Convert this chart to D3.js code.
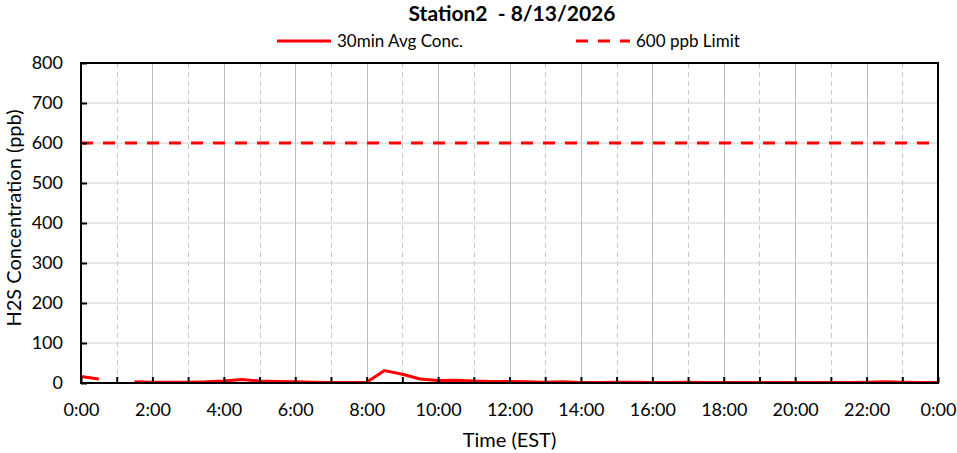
<!doctype html>
<html lang="en-us">
<head>
	<meta charset="utf-8">
	<title>Station2 H2S</title>
	<script src="https://d3js.org/d3.v7.min.js"></script>
	<style>
		body { margin: 0; background: #fff; }
		svg text { font-family: Lato, "Open Sans", sans-serif; fill: #000; }
	</style>
</head>
<body>
	<div id="chart"></div>
	<script>
		// DATA ---------------------------
		var chartTitle = "Station2  - 8/13/2026";
		var hours = [0, 0.5, 1, 1.5, 2, 2.5, 3, 3.5, 4, 4.5, 5, 5.5, 6, 6.5, 7, 7.5, 8, 8.5, 9, 9.5,
			10, 10.5, 11, 11.5, 12, 12.5, 13, 13.5, 14, 14.5, 15, 15.5, 16, 16.5, 17, 17.5, 18, 18.5,
			19, 19.5, 20, 20.5, 21, 21.5, 22, 22.5, 23, 23.5, 24];
		var avgConc = [16, 10, null, 3, 2, 2, 2, 3, 5, 9, 5, 4, 3, 2, 1, 1, 2, 31, 22, 10,
			6, 7, 5, 4, 4, 3, 2, 3, 1, 1, 2, 2, 1, 1, 2, 1, 1, 1,
			1, 1, 1, 1, 1, 1, 2, 3, 2, 1, 1];
		var limitValue = 600;
		var yTicks = [0, 100, 200, 300, 400, 500, 600, 700, 800];
		var xTicks = d3.range(0, 25, 1);
		var xLabels = ["0:00", "2:00", "4:00", "6:00", "8:00", "10:00", "12:00", "14:00",
			"16:00", "18:00", "20:00", "22:00", "0:00"];

		// set the dimensions and margins of the graph
		var W = 957, H = 453;
		var margin = { top: 63, right: 19, bottom: 70, left: 81 },
			width = W - margin.left - margin.right,
			height = H - margin.top - margin.bottom;

		var x = d3.scaleLinear().domain([0, 24]).range([0, width]);
		var y = d3.scaleLinear().domain([0, 800]).range([height, 0]);

		var svg = d3.select("#chart").append("svg")
			.attr("width", W)
			.attr("height", H);

		var g = svg.append("g")
			.attr("transform", "translate(" + margin.left + "," + margin.top + ")");

		// horizontal grid
		g.append("g").selectAll("line")
			.data(yTicks.slice(1, -1))
			.enter().append("line")
			.attr("x1", 0).attr("x2", width)
			.attr("y1", function (d) { return y(d); })
			.attr("y2", function (d) { return y(d); })
			.attr("stroke", "#d0d0d0")
			.attr("stroke-width", 1);

		// vertical grid: solid on even hours, dashed on odd
		g.append("g").selectAll("line")
			.data(xTicks.slice(1, -1))
			.enter().append("line")
			.attr("x1", function (d) { return Math.round(x(d)) + 0.5; })
			.attr("x2", function (d) { return Math.round(x(d)) + 0.5; })
			.attr("y1", 0).attr("y2", height)
			.attr("stroke", function (d) { return d % 2 ? "#c8c8c8" : "#bdbdbd"; })
			.attr("stroke-dasharray", function (d) { return d % 2 ? "5,4" : null; })
			.attr("stroke-width", 1);

		// limit line
		g.append("line")
			.attr("x1", 0).attr("x2", width)
			.attr("y1", y(limitValue)).attr("y2", y(limitValue))
			.attr("stroke", "#ff0000")
			.attr("stroke-width", 3)
			.attr("stroke-dasharray", "12,10");

		// data line
		var pts = hours.map(function (h, i) { return { h: h, v: avgConc[i] }; });
		var valueline = d3.line()
			.defined(function (d) { return d.v !== null; })
			.x(function (d) { return x(d.h); })
			.y(function (d) { return y(d.v); });

		g.append("path")
			.datum(pts)
			.attr("fill", "none")
			.attr("stroke", "#ff0000")
			.attr("stroke-width", 3)
			.attr("stroke-linejoin", "round")
			.attr("d", valueline);

		// X axis (ticks pointing inward)
		var xAxis = g.append("g")
			.attr("transform", "translate(0," + height + ")")
			.call(d3.axisBottom(x).tickValues(xTicks).tickSize(-6).tickSizeOuter(0)
				.tickFormat(function (d) { return d % 2 ? "" : xLabels[d / 2]; }));
		xAxis.select(".domain").remove();
		xAxis.selectAll(".tick line").attr("stroke", "#000").attr("stroke-width", 2);
		xAxis.selectAll(".tick text").attr("y", 20).attr("dy", "0.71em").style("font-size", "18px");

		// Y axis
		var yAxis = g.append("g")
			.call(d3.axisLeft(y).tickValues(yTicks).tickSize(-6).tickSizeOuter(0));
		yAxis.select(".domain").remove();
		yAxis.selectAll(".tick line").attr("stroke", "#000").attr("stroke-width", 2);
		yAxis.selectAll(".tick text").attr("x", -18).style("font-size", "18px");

		// plot border
		g.append("rect")
			.attr("x", 0).attr("y", 0)
			.attr("width", width).attr("height", height)
			.attr("fill", "none")
			.attr("stroke", "#000")
			.attr("stroke-width", 2);

		// title
		svg.append("text")
			.attr("x", 512).attr("y", 21)
			.attr("text-anchor", "middle")
			.style("font-size", "21px")
			.style("font-weight", "bold")
			.style("white-space", "pre")
			.text(chartTitle);

		// legend
		var legend = [
			{ label: "30min Avg Conc.", dash: null, x: 277 },
			{ label: "600 ppb Limit", dash: "12,10", x: 576 }
		];
		var lg = svg.append("g").selectAll("g")
			.data(legend).enter().append("g")
			.attr("transform", function (d) { return "translate(" + d.x + ",41)"; });
		lg.append("line")
			.attr("x1", 0).attr("x2", 54)
			.attr("stroke", "#ff0000")
			.attr("stroke-width", 3)
			.attr("stroke-dasharray", function (d) { return d.dash; });
		lg.append("text")
			.attr("x", 60).attr("y", 6)
			.style("font-size", "17px")
			.text(function (d) { return d.label; });

		// axis titles
		svg.append("text")
			.attr("x", margin.left + width / 2).attr("y", 447)
			.attr("text-anchor", "middle")
			.style("font-size", "20px")
			.text("Time (EST)");

		svg.append("text")
			.attr("transform", "translate(21,218) rotate(-90)")
			.attr("text-anchor", "middle")
			.style("font-size", "20px")
			.text("H2S Concentration (ppb)");
	</script>
</body>
</html>
